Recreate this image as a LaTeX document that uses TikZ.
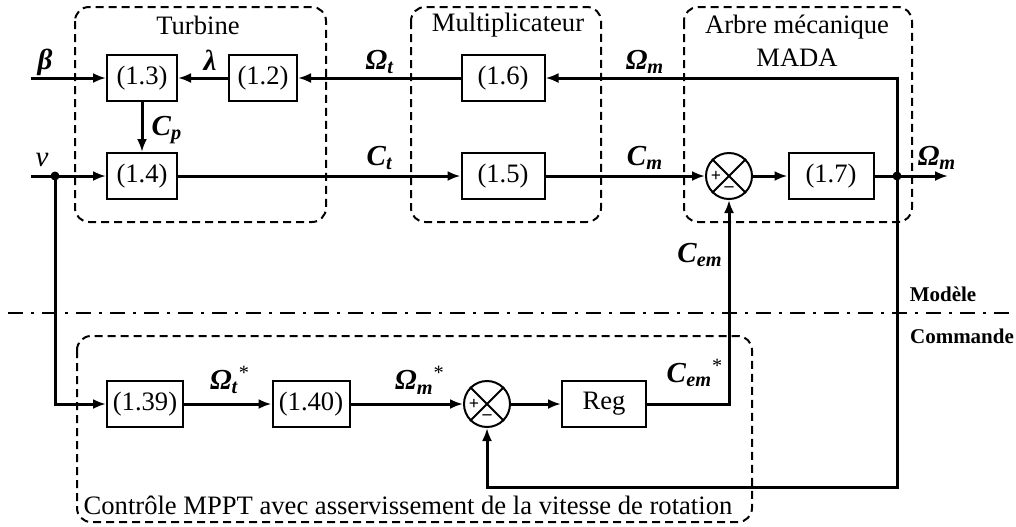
\documentclass[tikz,border=0pt]{standalone}
\usepackage{fontspec}
\setmainfont{Liberation Serif}
\usetikzlibrary{arrows.meta}

\newcommand{\sigl}[2]{\textbf{\textit{#1}}\textsubscript{\textbf{\textit{#2}}}}

\begin{document}
\begin{tikzpicture}[x=0.5pt, y=-0.5pt, font=\fontsize{13.3}{15}\selectfont]
			\tikzstyle{block}    = [draw, line width=1pt, minimum height=23pt, inner sep=0pt, fill=white]
			\tikzstyle{sum}      = [draw, circle, line width=1pt, minimum size=23pt, inner sep=0pt, fill=white]
			\tikzstyle{sig}      = [line width=1.5pt, -{Latex[length=6.5pt,width=5pt]}]
			\tikzstyle{group}    = [line width=1pt, rounded corners=7pt, dash pattern=on 4pt off 2.5pt]
			\tikzstyle{junction} = [circle, fill=black, inner sep=0pt, minimum size=4.5pt]
			\tikzstyle{sign}     = [font=\fontsize{9}{9}\selectfont\bfseries, inner sep=0pt]
			\tikzstyle{label}    = [font=\fontsize{14.5}{16}\selectfont]

			\useasboundingbox (0,0) rectangle (1016,526);

			% groupes
			\draw[group] (75,7) rectangle (326,222);
			\draw[group] (411,7) rectangle (601,222);
			\draw[group] (684,7) rectangle (912,222);
			\draw[group] (77,336) rectangle (752,522);
			\node (tturb) at (198,25) {Turbine};
			\node (tmult) at (508,25) {Multiplicateur};
			\node[align=center, font=\fontsize{13.3}{16.5}\selectfont] (tarbre) at (797,41) {Arbre mécanique\\MADA};
			\node (tmppt) at (408,505) {Contrôle MPPT avec asservissement de la vitesse de rotation};

			% separation
			\draw[line width=1pt, dash pattern=on 7.5pt off 4pt on 1.5pt off 4pt] (8,313) -- (1016,313);
			\node[font=\fontsize{10.5}{12}\selectfont\bfseries] (tmod) at (943,294) {Modèle};
			\node[font=\fontsize{10.5}{12}\selectfont\bfseries] (tcom) at (962,336) {Commande};

			\foreach \name/\lbl/\x/\y/\w in {b13/{(1.3)}/142/78/35, b12/{(1.2)}/263/78/34, b14/{(1.4)}/142/176/35,
				b16/{(1.6)}/503/78/41.5, b15/{(1.5)}/503/176/41.5, b17/{(1.7)}/831/176/42.5,
				b139/{(1.39)}/145/404/38, b140/{(1.40)}/311/404/38.5, reg/Reg/604/404/42}
				\node[block, minimum width=\w pt] (\name) at (\x,\y) {\lbl};

			\node[sum] (s1) at (729,176) {};
			\node[sum] (s2) at (487,404) {};
			\foreach \s in {s1, s2} {
				\draw[line width=1pt] (\s.north east) -- (\s.south west) (\s.north west) -- (\s.south east);
				\node[sign] at ([xshift=-6.5pt]\s.center) {+};
				\node[sign] at ([yshift=-6.5pt]\s.center) {--};
			}

			\coordinate (beta) at (31,78);
			\coordinate (vin) at (31,176);
			\coordinate (out) at (948,176);
			\coordinate (fbtop) at (897,78);
			\coordinate (fbbot) at (897,487);
			\node[junction] (vdot) at (55,176) {};
			\node[junction] (mdot) at (897,176) {};

			\draw[sig] (beta) -- (b13);
			\draw[sig] (b12) -- (b13);
			\draw[sig] (b16) -- (b12);
			\draw[sig] (mdot.center) -- (fbtop) -- (b16);
			\draw[sig] (b13) -- (b14);
			\draw[sig] (vin) -- (b14);
			\draw[sig] (b14) -- (b15);
			\draw[sig] (b15) -- (s1);
			\draw[sig] (s1) -- (b17);
			\draw[sig] (b17) -- (out);
			\draw[sig] (vdot.center) |- (b139);
			\draw[sig] (b139) -- (b140);
			\draw[sig] (b140) -- (s2);
			\draw[sig] (s2) -- (reg);
			\draw[sig] (reg) -| (s1);
			\draw[sig] (mdot.center) -- (fbbot) -| (s2);

			% etiquettes
			\node[label] (lbeta) at (45,62) {\textbf{\textit{β}}};
			\node[label] (llam) at (210,60) {\textbf{\textit{λ}}};
			\node[label] (lv) at (42,160) {\textit{v}};
			\node[label] (lcp) at (167,130) {\sigl{C}{p}};
			\node[label] (lomt) at (380,62) {\sigl{Ω}{t}};
			\node[label] (lomm) at (645,62) {\sigl{Ω}{m}};
			\node[label] (lct) at (380,158) {\sigl{C}{t}};
			\node[label] (lcm) at (645,158) {\sigl{C}{m}};
			\node[label] (lout) at (937,158) {\sigl{Ω}{m}};
			\node[label] (lcem) at (700,255) {\sigl{C}{em}};
			\node[label] (lcems) at (695,373) {\sigl{C}{em}\textsuperscript{*}};
			\node[label] (lomts) at (230,380) {\sigl{Ω}{t}\textsuperscript{*}};
			\node[label] (lomms) at (420,380) {\sigl{Ω}{m}\textsuperscript{*}};
		\end{tikzpicture}
\end{document}
